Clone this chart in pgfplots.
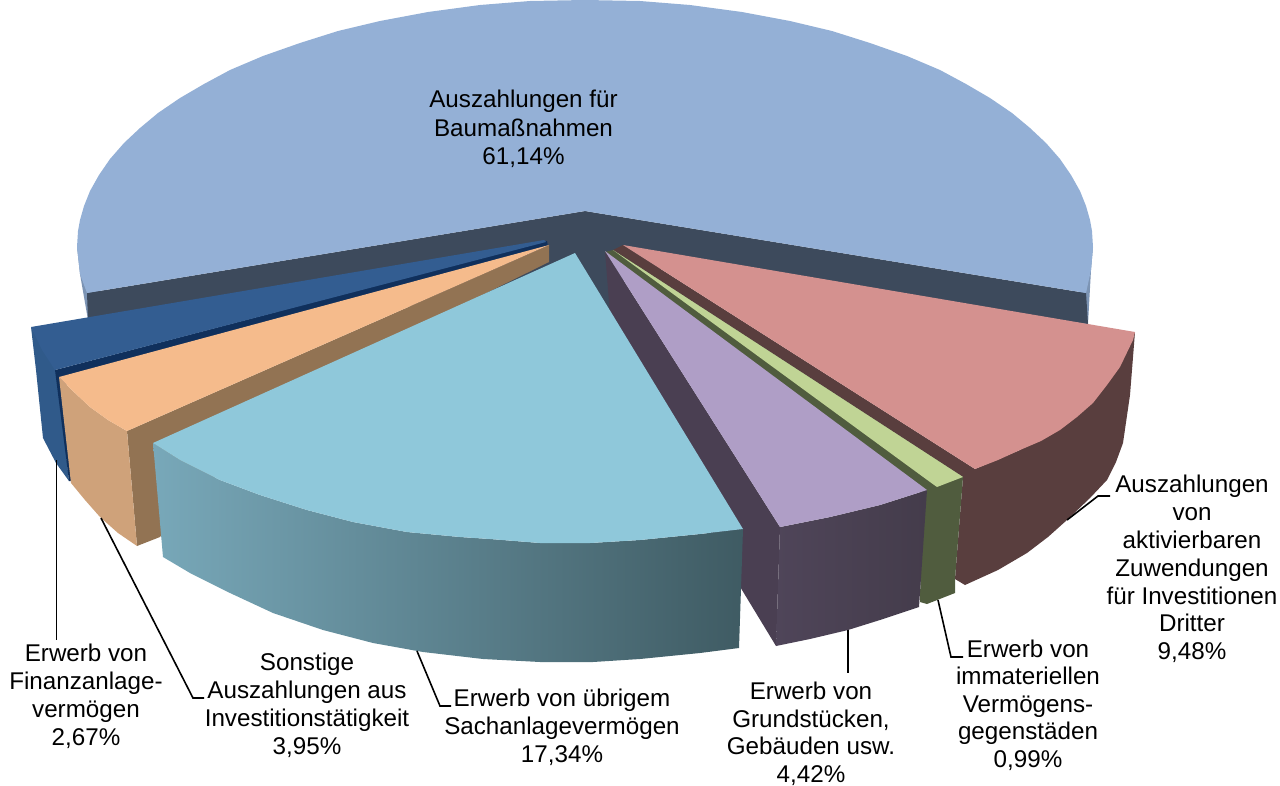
\documentclass[border=0pt]{standalone}
\usepackage{pgfplots}
\pgfplotsset{compat=1.18}
\usepackage{fontspec}
\setmainfont{Liberation Sans}
\definecolor{cBlueTop}{HTML}{94B0D6}
\definecolor{cBlueSide}{HTML}{7C94B4}
\definecolor{cSlate}{HTML}{3D4A5C}
\definecolor{cNavyTop}{HTML}{335D91}
\definecolor{cNavySide}{HTML}{305A8A}
\definecolor{cNavyIn}{HTML}{10305C}
\definecolor{cOrTop}{HTML}{F5BB8C}
\definecolor{cOrSide}{HTML}{CFA27A}
\definecolor{cOrIn}{HTML}{927353}
\definecolor{cTealTop}{HTML}{8FC8DA}
\definecolor{cTealL}{HTML}{78A8B9}
\definecolor{cTealM}{HTML}{5D8490}
\definecolor{cTealR}{HTML}{3F5B63}
\definecolor{cPurTop}{HTML}{AF9EC6}
\definecolor{cPurIn}{HTML}{4A3F52}
\definecolor{cPurL}{HTML}{4F4559}
\definecolor{cPurR}{HTML}{443C4B}
\definecolor{cGrTop}{HTML}{C0D495}
\definecolor{cGrSide}{HTML}{505C3E}
\definecolor{cPkTop}{HTML}{D4918F}
\definecolor{cPkSide}{HTML}{593E3E}
\tikzset{lab/.style={align=center, font=\fontsize{24.2}{28}\selectfont, text=black, inner sep=0pt}}
\begin{document}
\begin{tikzpicture}
\useasboundingbox (0,0) rectangle (1280pt,785pt);
\begin{axis}[
  at={(0,0)}, anchor=south west,
  scale only axis, width=1280pt, height=785pt,
  xmin=0, xmax=1280, ymin=0, ymax=785, y dir=reverse,
  hide axis, clip=false, no markers,
  every axis plot/.append style={sharp plot},
]
% large slice: side rim, then hollow wall, then top
\addplot[draw=none, fill=cBlueSide] coordinates {(77,247)(80,274)(88,320)(100,320)(100,290)} --cycle;
\addplot[draw=none, fill=cBlueSide] coordinates {(1093,247)(1091,270)(1088,324)(1080,324)(1080,290)} --cycle;
\addplot[draw=none, fill=cSlate] coordinates {(87,293)(585,211)(1086,293)(1088,324)(625,264)(620,330)(560,300)(88,320)} --cycle;
\addplot[draw=none, fill=cBlueTop] coordinates {
 (87,293)(80,274)(77,247)(78,231)(80,220)(84,206)(90,191)(99,175)(110,159)(124,143)(140,128)(158,113)(180,98)(204,84)(230,70)(263,56)(300,43)(338,31)(380,21)(428,12)(480,5)(530,1)(585,0)
 (640,1)(690,5)(742,12)(790,21)(832,31)(870,43)(907,56)(940,70)(966,84)(990,98)(1012,113)(1030,128)(1046,143)(1060,159)(1071,175)(1080,191)(1086,206)(1090,220)(1092,231)(1093,247)(1091,270)(1086,293)(585,211)} --cycle;
% navy slice
\addplot[draw=none, fill=cNavySide] coordinates {(31,327)(36,370)(43,438)(56,463)(69,481)(57,371)} --cycle;
\addplot[draw=none, fill=cNavyIn] coordinates {(55,370)(547,241)(549,252)(65,385)(71,481)(69,481)} --cycle;
\addplot[draw=none, fill=cNavyTop] coordinates {(31,327)(544,240)(546,242)(55,370)(42,350)} --cycle;
% orange slice
\addplot[draw=none, fill=cOrIn] coordinates {(127,431)(549,245)(549,262)(300,385)(160,537)(137,546)} --cycle;
\addplot[draw=none, fill=cOrSide] coordinates {(59,377)(75,393)(90,407)(108,420)(127,431)(137,546)(118,533)(100,517)(85,500)(71,483)} --cycle;
\addplot[draw=none, fill=cOrTop] coordinates {(59,377)(549,245)(127,431)(108,420)(90,407)(75,393)} --cycle;
% purple slice inner wall (before teal)
\addplot[draw=none, fill=cPurIn] coordinates {(605,251)(780,527)(776,646)(742,590)(650,430)(610,315)} --cycle;
% teal slice
\addplot[draw=none, left color=cTealL, middle color=cTealM, right color=cTealR] coordinates {
 (153,443)(180,460)(220,480)(260,495)(307,510)(353,522)(407,532)(460,537)(490,539)(540,543)(590,543)(640,540)(700,534)(743,529)
 (739,648)(700,653)(640,659)(593,662)(540,662)(483,659)(423,652)(373,643)(323,630)(273,613)(230,593)(190,573)(163,557)} --cycle;
\addplot[draw=none, fill=cTealTop] coordinates {
 (153,443)(575,253)(743,529)(700,534)(640,540)(590,543)(540,543)(490,539)(460,537)(407,532)(353,522)(307,510)(260,495)(220,480)(180,460)} --cycle;
% pink slice
\addplot[draw=none, fill=cPkSide] coordinates {
 (613,250)(623,245)(975,469)(1020,450)(1135,332)(1130,395)(1123,443)(1116,462)(1107,480)(1090,498)(1067,520)(1048,537)(1027,553)(998,570)(965,585)(955,579)(963,477)} --cycle;
\addplot[draw=none, fill=cPkTop] coordinates {
 (623,245)(1135,332)(1133,340)(1120,367)(1107,385)(1093,403)(1077,417)(1060,430)(1041,441)(1020,450)(998,460)(975,469)} --cycle;
% green slice
\addplot[draw=none, fill=cGrSide] coordinates {(605,252)(613,250)(963,477)(955,579)(955,593)(927,604)(920,602)(922,494)} --cycle;
\addplot[draw=none, fill=cGrTop] coordinates {(613,250)(930,482)(937,487)(963,477)} --cycle;
% purple top and side
\addplot[draw=none, left color=cPurL, right color=cPurR] coordinates {
 (780,527)(830,517)(880,505)(927,490)(919,607)(880,620)(848,630)(810,639)(776,646)} --cycle;
\addplot[draw=none, fill=cPurTop] coordinates {(605,251)(927,490)(880,505)(830,517)(780,527)} --cycle;
% leader lines
\addplot[black, line width=1.6pt] coordinates {(56.5,460)(56.5,640)};
\addplot[black, line width=1.6pt] coordinates {(101,518)(193,698)(204,698)};
\addplot[black, line width=1.6pt] coordinates {(417,651)(440,706)(451,706)};
\addplot[black, line width=1.6pt] coordinates {(848,630)(848,673)};
\addplot[black, line width=1.6pt] coordinates {(938,600)(951,657)(963,657)};
\addplot[black, line width=1.6pt] coordinates {(1067,520)(1098,496)(1110,496)};
% labels
\node[lab, font=\fontsize{24.2}{28.5}\selectfont] at (axis cs:523.5,129) {Auszahlungen für\\Baumaßnahmen\\61,14\%};
\node[lab, font=\fontsize{24.2}{27.8}\selectfont] at (axis cs:1192,569) {Auszahlungen\\von\\aktivierbaren\\Zuwendungen\\für Investitionen\\Dritter\\9,48\%};
\node[lab, font=\fontsize{24.2}{27.5}\selectfont] at (axis cs:1028,705) {Erwerb von\\immateriellen\\Vermögens-\\gegenstäden\\0,99\%};
\node[lab, font=\fontsize{24.2}{27.5}\selectfont] at (axis cs:811,734) {Erwerb von\\Grundstücken,\\Gebäuden usw.\\4,42\%};
\node[lab] at (axis cs:562,727) {Erwerb von übrigem\\Sachanlagevermögen\\17,34\%};
\node[lab] at (axis cs:307,705) {Sonstige\\Auszahlungen aus\\Investitionstätigkeit\\3,95\%};
\node[lab] at (axis cs:86,696) {Erwerb von\\Finanzanlage-\\vermögen\\2,67\%};
\end{axis}
\end{tikzpicture}
\end{document}
